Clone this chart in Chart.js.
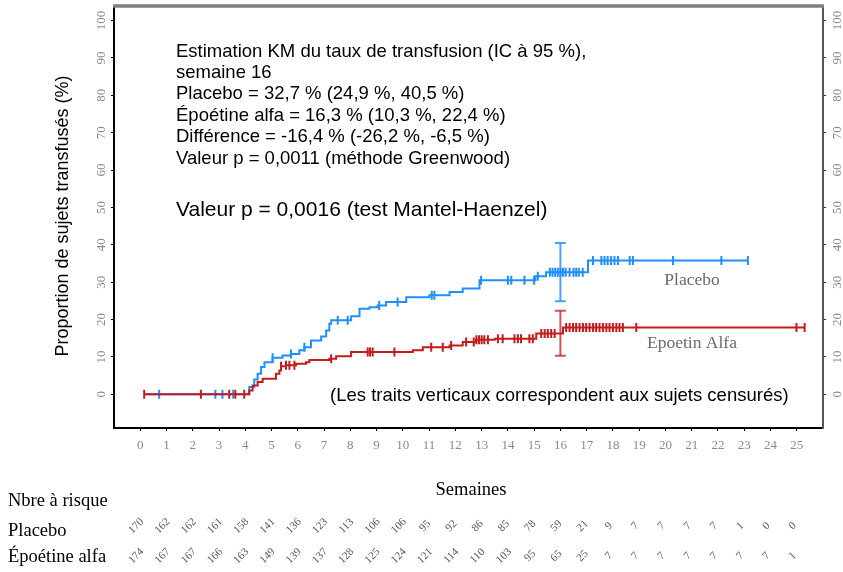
<!DOCTYPE html>
<html><head><meta charset="utf-8">
<script src="https://cdn.jsdelivr.net/npm/chart.js@4/dist/chart.umd.min.js"></script>
<style>html,body{margin:0;padding:0;background:#fff}#wrap{width:843px;height:572px;position:relative}</style>
</head><body><div id="wrap"><canvas id="c" width="843" height="572"></canvas></div>
<script>
// ---------- data ----------
const xTicks = [0,1,2,3,4,5,6,7,8,9,10,11,12,13,14,15,16,17,18,19,20,21,22,23,24,25];
const yTicks = [0,10,20,30,40,50,60,70,80,90,100];

const placeboTimes  = [0.15, 4.15, 4.34, 4.47, 4.6, 4.73, 5.04, 5.42, 5.74, 6.06, 6.25, 6.5, 6.89, 7.08, 7.2, 7.27, 8.03, 8.35, 8.73, 9.04, 9.36, 10.13, 11.01, 11.78, 12.28, 12.92, 15.05, 15.45, 17.05, 23.14];
const placeboValues = [0, 2.0, 4.0, 5.5, 7.3, 8.6, 9.8, 10.4, 10.8, 11.8, 12.6, 14.4, 15.5, 17.1, 18.9, 19.8, 20.9, 22.9, 23.3, 23.8, 24.7, 26.0, 26.5, 27.4, 28.3, 30.5, 31.6, 32.7, 35.8, 35.8];

const epoetinTimes  = [0.15, 4.15, 4.28, 4.47, 4.66, 5.17, 5.3, 5.36, 5.55, 5.93, 6.31, 6.44, 7.2, 7.46, 8.03, 10.38, 10.76, 11.78, 12.28, 12.79, 13.5, 15.08, 16.1, 25.3];
const epoetinValues = [0, 1.0, 2.4, 3.3, 4.2, 5.5, 6.4, 7.5, 7.8, 8.2, 8.6, 9.2, 9.5, 10.2, 11.3, 11.8, 12.6, 13.1, 14.0, 14.6, 14.9, 16.3, 17.9, 17.9];

const placeboCensor = [0.72, 2.86, 3.13, 3.54, 5.04, 5.74, 6.25, 7.52, 7.9, 9.1, 9.8, 11.1, 11.2, 12.98, 14.0, 14.13, 14.63, 15.0, 15.14, 15.6, 15.7, 15.8, 15.9, 16.0, 16.1, 16.2, 16.35, 16.5, 16.6, 16.7, 16.85, 17.24, 17.56, 17.68, 17.8, 17.93, 18.06, 18.19, 18.64, 18.76, 20.29, 22.13, 23.14];
const epoetinCensor = [0.15, 2.31, 3.39, 3.62, 3.96, 5.36, 5.55, 5.68, 5.87, 7.27, 8.66, 8.75, 8.85, 9.68, 11.08, 11.52, 11.84, 12.41, 12.7, 12.8, 12.9, 13.0, 13.1, 13.24, 13.62, 13.8, 14.25, 14.38, 14.5, 14.82, 14.95, 15.27, 15.4, 15.52, 15.65, 15.78, 16.22, 16.35, 16.48, 16.6, 16.73, 16.86, 16.98, 17.11, 17.24, 17.36, 17.49, 17.62, 17.75, 17.87, 18.0, 18.13, 18.25, 18.38, 18.89, 24.99, 25.3];

const ciWeek = 16;
const placeboCI = [24.9, 40.5];
const epoetinCI = [10.3, 22.4];

const riskPlacebo = [170,162,162,161,158,141,136,123,113,106,106,95,92,86,85,78,59,21,9,7,7,7,7,1,0,0];
const riskEpoetin = [174,167,167,166,163,149,139,137,128,125,124,121,114,110,103,95,65,25,7,7,7,7,7,7,7,1];

const statLines = [
  "Estimation KM du taux de transfusion (IC à 95 %),",
  "semaine 16",
  "Placebo = 32,7 % (24,9 %, 40,5 %)",
  "Époétine alfa = 16,3 % (10,3 %, 22,4 %)",
  "Différence = -16,4 % (-26,2 %, -6,5 %)",
  "Valeur p = 0,0011 (méthode Greenwood)"
];
const pValueLine = "Valeur p = 0,0016 (test Mantel-Haenzel)";
const censorNote = "(Les traits verticaux correspondent aux sujets censurés)";
const yTitle = "Proportion de sujets transfusés (%)";
const xTitle = "Semaines";
const riskTitle = "Nbre à risque";
const riskLabels = ["Placebo", "Époétine alfa"];
const curveLabels = ["Placebo", "Epoetin Alfa"];

// ---------- helpers ----------
const BLUE = '#1E8FFF';
const RED = '#C51B1B';
const toPts = (ts, vs) => ts.map((t, i) => ({x: t, y: vs[i]}));
function kmAt(ts, vs, t) { let v = vs[0]; for (let i = 0; i < ts.length; i++) { if (ts[i] <= t + 1e-9) v = vs[i]; } return v; }
const censorPts = (cs, ts, vs) => cs.map(t => ({x: t, y: kmAt(ts, vs, t)}));

const textPlugin = {
  id: 'texts',
  afterDraw(chart) {
    const ctx = chart.ctx, ys = chart.scales.y, xs = chart.scales.x, ca = chart.chartArea;
    ctx.save();
    // top border
    ctx.strokeStyle = '#808080'; ctx.lineWidth = 3.5;
    ctx.beginPath(); ctx.moveTo(ca.left - 1, 6); ctx.lineTo(ca.right + 1, 6); ctx.stroke();
    // rotated y tick labels
    ctx.fillStyle = '#8a8a8a'; ctx.font = '13px "Liberation Serif"';
    ctx.textAlign = 'center'; ctx.textBaseline = 'middle';
    yTicks.forEach(v => {
      const py = ys.getPixelForValue(v);
      [102, 838].forEach(px => {
        ctx.save(); ctx.translate(px, py); ctx.rotate(-Math.PI / 2); ctx.fillText(String(v), 0, 0); ctx.restore();
      });
    });
    // y title
    ctx.fillStyle = '#000'; ctx.font = '18px "Liberation Sans"';
    ctx.save(); ctx.translate(63, 216); ctx.rotate(-Math.PI / 2); ctx.fillText(yTitle, 0, 0); ctx.restore();
    // stats text
    ctx.textAlign = 'left';
    ctx.font = '18.5px "Liberation Sans"';
    const lineY = [51.5, 73, 94, 115.5, 137, 158.5];
    statLines.forEach((s, i) => ctx.fillText(s, 176, lineY[i]));
    ctx.font = '21px "Liberation Sans"';
    ctx.fillText(pValueLine, 176, 210);
    ctx.font = '18.5px "Liberation Sans"';
    ctx.fillText(censorNote, 330, 396);
    // curve labels
    ctx.fillStyle = '#6a6a6a'; ctx.font = '17.5px "Liberation Serif"'; ctx.textAlign = 'center';
    ctx.fillText(curveLabels[0], 692, 280);
    ctx.fillText(curveLabels[1], 692, 343);
    // x title
    ctx.fillStyle = '#000'; ctx.font = '18.5px "Liberation Serif"';
    ctx.fillText(xTitle, 471, 490);
    // risk table
    ctx.textAlign = 'left';
    ctx.fillText(riskTitle, 8, 501);
    ctx.fillText(riskLabels[0], 8, 531);
    ctx.fillText(riskLabels[1], 8, 557);
    ctx.fillStyle = '#555'; ctx.font = '11px "Liberation Serif"'; ctx.textAlign = 'center';
    [[riskPlacebo, 526], [riskEpoetin, 556]].forEach(([arr, yy]) => {
      arr.forEach((n, i) => {
        const px = xs.getPixelForValue(xTicks[i]) - 4;
        ctx.save(); ctx.translate(px, yy); ctx.rotate(-Math.PI / 4); ctx.fillText(String(n), 0, 0); ctx.restore();
      });
    });
    ctx.restore();
  }
};

const lineDs = (data, color) => ({data, showLine: true, stepped: true, borderColor: color, borderWidth: 2, pointRadius: 0, fill: false});
const censorDs = (data, color) => ({data, showLine: false, pointStyle: 'line', rotation: 90, pointRadius: 4.5, borderColor: color, backgroundColor: color, pointBorderWidth: 2, borderWidth: 2});
const ciDs = (lo, hi, color) => ({data: [{x: ciWeek, y: lo}, {x: ciWeek, y: hi}], showLine: true, borderColor: color, borderWidth: 2, pointStyle: 'line', rotation: 0, pointRadius: 5.5, pointBorderWidth: 2, backgroundColor: color});

new Chart(document.getElementById('c'), {
  type: 'scatter',
  data: {
    datasets: [
      lineDs(toPts(epoetinTimes, epoetinValues), RED),
      censorDs(censorPts(epoetinCensor, epoetinTimes, epoetinValues), RED),
      ciDs(epoetinCI[0], epoetinCI[1], 'rgba(197,27,27,0.75)'),
      lineDs(toPts(placeboTimes, placeboValues), BLUE),
      censorDs(censorPts(placeboCensor, placeboTimes, placeboValues), BLUE),
      ciDs(placeboCI[0], placeboCI[1], 'rgba(30,143,255,0.8)')
    ]
  },
  options: {
    responsive: false, animation: false, events: [],
    layout: {padding: {top: 7, left: 0, right: 0, bottom: 0}},
    plugins: {legend: {display: false}, tooltip: {enabled: false}},
    scales: {
      x: {
        type: 'linear', min: -1, max: 26,
        afterBuildTicks: s => { s.ticks = xTicks.map(v => ({value: v})); },
        afterFit: s => { s.height = 144; },
        border: {display: true, color: '#000', width: 2},
        grid: {drawOnChartArea: false, drawTicks: true, tickLength: 3, color: '#000'},
        ticks: {color: '#8a8a8a', font: {family: 'Liberation Serif', size: 13}, padding: 7, maxRotation: 0, autoSkip: false}
      },
      y: {
        type: 'linear', position: 'left', min: -9, max: 103.5,
        afterBuildTicks: s => { s.ticks = yTicks.map(v => ({value: v})); },
        afterFit: s => { s.width = 114; },
        border: {display: true, color: '#000', width: 2},
        grid: {drawOnChartArea: false, drawTicks: true, tickLength: 3, color: '#000'},
        ticks: {display: false}
      },
      y2: {
        type: 'linear', position: 'right', min: -9, max: 103.5,
        afterBuildTicks: s => { s.ticks = yTicks.map(v => ({value: v})); },
        afterFit: s => { s.width = 20; },
        border: {display: true, color: '#555', width: 2},
        grid: {drawOnChartArea: false, drawTicks: true, tickLength: 3, color: '#333'},
        ticks: {display: false}
      }
    }
  },
  plugins: [textPlugin]
});
</script>
</body></html>
